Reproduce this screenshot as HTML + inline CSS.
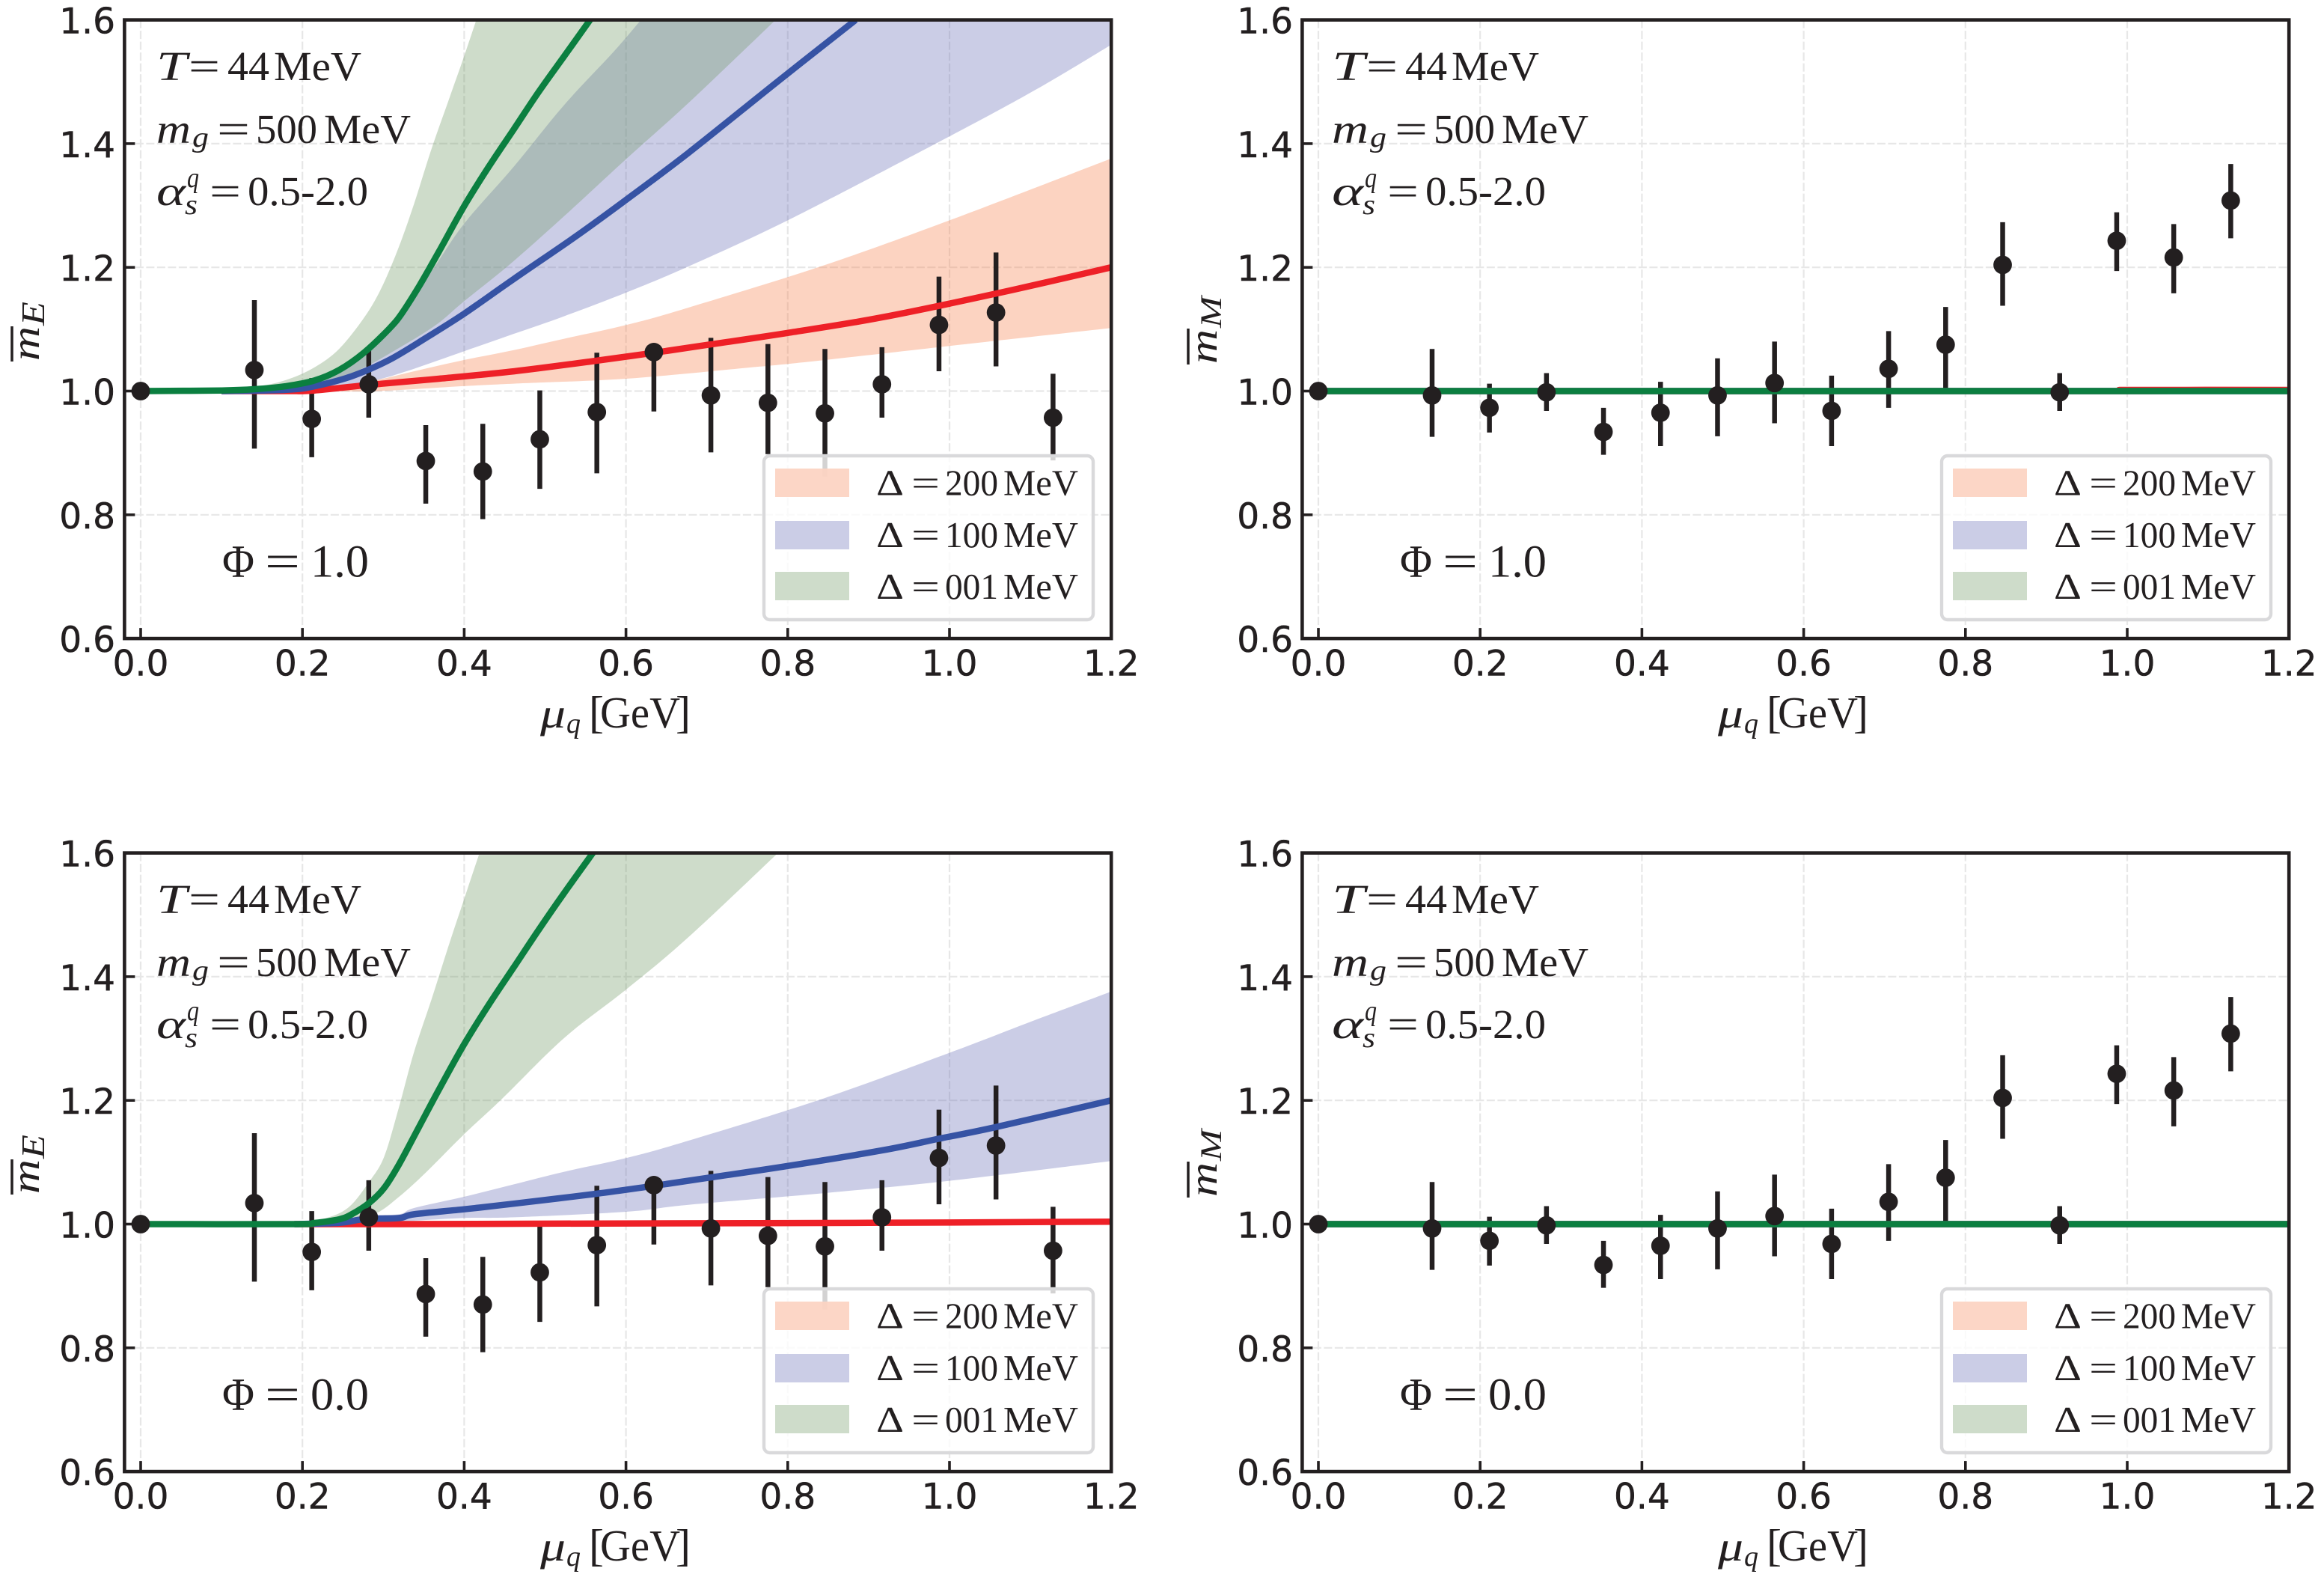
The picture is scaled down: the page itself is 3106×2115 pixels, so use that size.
<!DOCTYPE html>
<html lang="en">
<head>
<meta charset="utf-8">
<title>Screening mass ratios versus quark chemical potential</title>
<style>
html,body{margin:0;padding:0;background:#fff;}
body{width:3106px;height:2115px;overflow:hidden;}
svg{display:block;}
text{fill:#231f20;}
</style>
</head>
<body>
<svg id="figure" xmlns="http://www.w3.org/2000/svg" width="3106" height="2115" viewBox="0 0 3106 2115"></svg>
<script>
const xTickValues = [0, 0.2, 0.4, 0.6, 0.8, 1.0, 1.2];
const xTickLabels = ['0.0', '0.2', '0.4', '0.6', '0.8', '1.0', '1.2'];
const yTickValues = [0.6, 0.8, 1.0, 1.2, 1.4, 1.6];
const yTickLabels = ['0.6', '0.8', '1.0', '1.2', '1.4', '1.6'];
const legendLabels = ['200', '100', '001'];

const muPoints = [0, 0.1406, 0.2115, 0.282, 0.3525, 0.423, 0.4935, 0.564, 0.6345, 0.705, 0.7755, 0.846, 0.9165, 0.987, 1.0575, 1.128];
const electricMass = [1.0, 1.034, 0.955, 1.011, 0.887, 0.870, 0.922, 0.966, 1.063, 0.993, 0.981, 0.964, 1.011, 1.107, 1.127, 0.957];
const electricUpper = [1.0, 1.147, 1.021, 1.071, 0.945, 0.947, 1.001, 1.062, 1.075, 1.086, 1.076, 1.068, 1.071, 1.185, 1.224, 1.028];
const electricLower = [1.0, 0.907, 0.893, 0.957, 0.818, 0.793, 0.842, 0.867, 0.967, 0.901, 0.898, 0.862, 0.957, 1.032, 1.040, 0.888];
const magneticMass = [1.0, 0.993, 0.973, 0.998, 0.934, 0.965, 0.993, 1.013, 0.968, 1.036, 1.075, 1.204, 0.998, 1.243, 1.216, 1.308];
const magneticUpper = [1.0, 1.068, 1.012, 1.029, 0.973, 1.015, 1.053, 1.080, 1.025, 1.097, 1.136, 1.273, 1.029, 1.289, 1.270, 1.367];
const magneticLower = [1.0, 0.926, 0.933, 0.968, 0.897, 0.911, 0.927, 0.948, 0.911, 0.973, 1.000, 1.138, 0.968, 1.194, 1.158, 1.247];

/* top-left panel, Phi = 1.0 */
const tlGreenMu = [0, 0.10, 0.1406, 0.18, 0.2146, 0.2454, 0.2763, 0.3071, 0.3225, 0.3441, 0.3688, 0.3996, 0.4304, 0.4613, 0.4921, 0.523, 0.5538, 0.56];
const tlGreenVal = [1.0, 1.001, 1.003, 1.008, 1.0171, 1.0341, 1.0623, 1.1006, 1.1248, 1.1692, 1.2256, 1.2982, 1.3628, 1.4232, 1.4837, 1.5402, 1.5967, 1.608];
const tlGreenUpMu = [0.10, 0.14, 0.18, 0.2146, 0.2454, 0.2763, 0.2979, 0.3194, 0.3379, 0.3595, 0.3811, 0.3996, 0.415];
const tlGreenUpVal = [1.001, 1.006, 1.018, 1.0381, 1.0683, 1.1188, 1.1672, 1.2337, 1.3023, 1.391, 1.4716, 1.5402, 1.6];
const tlGreenLoMu = [0.10, 0.18, 0.2146, 0.2454, 0.2763, 0.3071, 0.3626, 0.3996, 0.4551, 0.523, 0.6, 0.6771, 0.785];
const tlGreenLoVal = [1.0, 1.003, 1.007, 1.02, 1.0381, 1.0603, 1.1046, 1.145, 1.2034, 1.2821, 1.3748, 1.4656, 1.6];
const tlBlueMu = [0.10, 0.18, 0.2146, 0.2609, 0.3071, 0.3534, 0.3996, 0.4613, 0.5384, 0.6, 0.6772, 0.79, 0.884];
const tlBlueVal = [1.0, 1.002, 1.0078, 1.024, 1.0502, 1.0865, 1.1248, 1.1813, 1.2505, 1.309, 1.385, 1.503, 1.6];
const tlBlueUpMu = [0.10, 0.18, 0.2146, 0.2454, 0.2763, 0.3225, 0.3595, 0.3996, 0.4613, 0.523, 0.5846, 0.6185];
const tlBlueUpVal = [1.0, 1.006, 1.02, 1.034, 1.0683, 1.1289, 1.1934, 1.27, 1.3628, 1.4616, 1.5483, 1.6];
const tlBlueLoMu = [0.10, 0.18, 0.2454, 0.2917, 0.3379, 0.3996, 0.4613, 0.523, 0.6, 0.6772, 0.80, 0.983, 1.105, 1.2];
const tlBlueLoVal = [1.0, 1.001, 1.008, 1.018, 1.0361, 1.0643, 1.0925, 1.1207, 1.1591, 1.2014, 1.276, 1.4, 1.486, 1.56];
const tlRedMu = [0.10, 0.18, 0.2146, 0.2824, 0.3688, 0.4613, 0.563, 0.6322, 0.705, 0.80, 0.916, 1.059, 1.2];
const tlRedVal = [1.0, 1.0, 1.001, 1.01, 1.02, 1.032, 1.049, 1.0615, 1.0755, 1.094, 1.119, 1.158, 1.2];
const tlRedUpMu = [0.10, 0.2146, 0.2917, 0.3379, 0.3996, 0.4613, 0.523, 0.6, 0.6772, 0.844, 1.0, 1.2];
const tlRedUpVal = [1.0, 1.001, 1.018, 1.032, 1.0502, 1.0663, 1.0845, 1.1067, 1.1349, 1.203, 1.276, 1.376];
const tlRedLoMu = [0.10, 0.2146, 0.2917, 0.3996, 0.4613, 0.6, 0.745, 0.844, 1.014, 1.2];
const tlRedLoVal = [1.0, 1.0, 1.0, 1.008, 1.012, 1.02, 1.037, 1.05, 1.075, 1.102];

/* bottom-left panel, Phi = 0.0 */
const blGreenMu = [0, 0.19, 0.2146, 0.2454, 0.2609, 0.2824, 0.3009, 0.3194, 0.3441, 0.3688, 0.3996, 0.4304, 0.4613, 0.4921, 0.523, 0.5584, 0.565];
const blGreenVal = [1.0, 1.0, 1.0018, 1.0078, 1.0159, 1.0341, 1.0582, 1.0966, 1.1571, 1.2176, 1.2901, 1.3547, 1.4152, 1.4757, 1.5342, 1.5987, 1.61];
const blGreenUpMu = [0.19, 0.23, 0.2578, 0.2824, 0.3009, 0.3194, 0.3379, 0.3595, 0.3811, 0.3996, 0.4181];
const blGreenUpVal = [1.0, 1.0099, 1.028, 1.0683, 1.1087, 1.1893, 1.2781, 1.3628, 1.4515, 1.5241, 1.5967];
const blGreenLoMu = [0.19, 0.2454, 0.2886, 0.3194, 0.3534, 0.3996, 0.4459, 0.523, 0.6, 0.6771, 0.788];
const blGreenLoVal = [1.0, 1.004, 1.016, 1.0442, 1.0845, 1.145, 1.2014, 1.3002, 1.3789, 1.4636, 1.6];
const blBlueMu = [0.19, 0.2454, 0.2763, 0.3194, 0.3379, 0.3996, 0.4613, 0.563, 0.6322, 0.705, 0.80, 0.916, 0.987, 1.058, 1.2];
const blBlueVal = [1.0, 1.002, 1.008, 1.0098, 1.0159, 1.024, 1.033, 1.049, 1.0615, 1.0755, 1.094, 1.119, 1.138, 1.157, 1.2];
const blBlueUpMu = [0.25, 0.2763, 0.3194, 0.3379, 0.3996, 0.4613, 0.523, 0.6, 0.6772, 0.844, 1.0, 1.1, 1.2];
const blBlueUpVal = [1.004, 1.014, 1.016, 1.026, 1.0442, 1.0643, 1.0845, 1.1067, 1.1349, 1.203, 1.277, 1.327, 1.376];
const blBlueLoMu = [0.25, 0.3194, 0.3996, 0.4613, 0.6, 0.6772, 0.844, 1.0, 1.2];
const blBlueLoVal = [1.0, 1.004, 1.0099, 1.011, 1.02, 1.0312, 1.05, 1.07, 1.102];
const blRedMu = [0.19, 0.32, 0.566, 0.90, 1.2];
const blRedVal = [1.0, 1.0, 1.001, 1.002, 1.004];

/* right-hand panels: all three magnetic curves sit on 1.0 */
const trCurveMu = [0, 0.99, 0.994, 1.2];
const trRedVal = [1.0, 1.0, 1.0018, 1.0018];
const trBlueVal = [1.0, 1.0, 1.0, 1.0];
const trGreenVal = [1.0, 1.0, 1.0, 1.0];
const brCurveMu = [0, 0.6, 1.2];
const brRedVal = [1.0, 1.0, 1.0];
const brBlueVal = [1.0, 1.0, 1.0];
const brGreenVal = [1.0, 1.0, 1.0];

const SVGNS = 'http://www.w3.org/2000/svg';
const INK = '#231f20';
const RED = '#ee2027';
const BLUE = '#3653a4';
const GREEN = '#0b7f40';
const figure = document.getElementById('figure');

const defs = document.createElementNS(SVGNS, 'defs');
figure.appendChild(defs);

function node(parent, tag, attrs) {
  const n = document.createElementNS(SVGNS, tag);
  for (const k in attrs) n.setAttribute(k, attrs[k]);
  parent.appendChild(n);
  return n;
}

function xScale(mu, ox) { return 188 + 1081 * mu + ox; }
function yScale(v, oy) { return 522.5 - 826.5 * (v - 1) + oy; }

function smoothSegs(pts) {
  let d = '';
  for (let i = 0; i < pts.length - 1; i++) {
    const p0 = pts[Math.max(i - 1, 0)], p1 = pts[i], p2 = pts[i + 1], p3 = pts[Math.min(i + 2, pts.length - 1)];
    const c1x = p1[0] + (p2[0] - p0[0]) / 6, c1y = p1[1] + (p2[1] - p0[1]) / 6;
    const c2x = p2[0] - (p3[0] - p1[0]) / 6, c2y = p2[1] - (p3[1] - p1[1]) / 6;
    d += ' C' + c1x.toFixed(1) + ' ' + c1y.toFixed(1) + ' ' + c2x.toFixed(1) + ' ' + c2y.toFixed(1) + ' ' + p2[0].toFixed(1) + ' ' + p2[1].toFixed(1);
  }
  return d;
}

function toPts(mus, vals, ox, oy) {
  return mus.map(function (m, i) { return [xScale(m, ox), yScale(vals[i], oy)]; });
}

function linePath(mus, vals, ox, oy) {
  const p = toPts(mus, vals, ox, oy);
  return 'M' + p[0][0].toFixed(1) + ' ' + p[0][1].toFixed(1) + smoothSegs(p);
}

function bandPath(upMu, upVal, loMu, loVal, ox, oy) {
  const up = toPts(upMu, upVal, ox, oy);
  const lo = toPts(loMu, loVal, ox, oy).reverse();
  const corner = lo[0][0].toFixed(1) + ' ' + yScale(1.6, oy).toFixed(1);
  return 'M' + up[0][0].toFixed(1) + ' ' + up[0][1].toFixed(1) + smoothSegs(up) +
    ' L' + corner + ' L' + lo[0][0].toFixed(1) + ' ' + lo[0][1].toFixed(1) + smoothSegs(lo) + ' Z';
}

function label(parent, str, x0, x1, base, size, italic) {
  const t = node(parent, 'text', {
    x: x0, y: base,
    'font-family': '"Liberation Serif", "DejaVu Serif", serif',
    'font-size': size,
    'font-style': italic ? 'italic' : 'normal',
    textLength: x1 - x0,
    lengthAdjust: 'spacingAndGlyphs'
  });
  t.textContent = str;
  return t;
}

function drawPanel(id, ox, oy, massVals, massUp, massLo, bands, lines, phiText, yName) {
  const panel = node(figure, 'g', { id: id });
  
  

  const x0 = xScale(-0.02, ox), x1 = xScale(1.2, ox), yTop = yScale(1.6, oy), yBot = yScale(0.6, oy);

  const clip = node(defs, 'clipPath', { id: 'clip-' + id });
  node(clip, 'rect', { x: x0, y: yTop, width: x1 - x0, height: yBot - yTop });

  const grid = node(panel, 'g', { stroke: '#e7e7e7', 'stroke-width': 2.2, 'stroke-dasharray': '11 3.5', fill: 'none' });
  
  
  xTickValues.slice(0, -1).forEach(function (m) {
    node(grid, 'line', { x1: xScale(m, ox), x2: xScale(m, ox), y1: yTop, y2: yBot });
  });
  yTickValues.slice(1, -1).forEach(function (v) {
    node(grid, 'line', { x1: x0, x2: x1, y1: yScale(v, oy), y2: yScale(v, oy) });
  });

  const plot = node(panel, 'g', { 'clip-path': 'url(#clip-' + id + ')' });
  
  

  bands.forEach(function (b) {
    const band = node(plot, 'path', { d: bandPath(b.upMu, b.upVal, b.loMu, b.loVal, ox, oy), fill: b.color, 'fill-opacity': 0.35, stroke: 'none' });
    
    
  });

  muPoints.forEach(function (m, i) {
    if (massUp[i] === massLo[i]) return;
    const bar = node(plot, 'line', { x1: xScale(m, ox), x2: xScale(m, ox), y1: yScale(massUp[i], oy), y2: yScale(massLo[i], oy), stroke: INK, 'stroke-width': 6.5 });
    
    
  });

  lines.forEach(function (l) {
    const curve = node(plot, 'path', { d: linePath(l.mu, l.val, ox, oy), fill: 'none', stroke: l.color, 'stroke-width': 8.5 });
    
    
  });

  muPoints.forEach(function (m, i) {
    const dot = node(panel, 'circle', { cx: xScale(m, ox), cy: yScale(massVals[i], oy), r: 12.4, fill: INK });
    
    
  });

  const frame = node(panel, 'rect', { x: x0, y: yTop, width: x1 - x0, height: yBot - yTop, fill: 'none', stroke: INK, 'stroke-width': 4.6 });
  
  

  xTickValues.forEach(function (m, i) {
    if (i < xTickValues.length - 1) {
      const tick = node(panel, 'line', { x1: xScale(m, ox), x2: xScale(m, ox), y1: yBot, y2: yBot - 14, stroke: INK, 'stroke-width': 3.6 });
      
      
    }
    const tl = node(panel, 'text', { x: xScale(m, ox), y: 902.5 + oy, 'text-anchor': 'middle', 'font-family': '"DejaVu Sans", sans-serif', 'font-size': 47, stroke: INK, 'stroke-width': 0.5 });
    tl.textContent = xTickLabels[i];
    
    
  });
  yTickValues.forEach(function (v, i) {
    if (i > 0 && i < yTickValues.length - 1) {
      const tick = node(panel, 'line', { x1: x0, x2: x0 + 14, y1: yScale(v, oy), y2: yScale(v, oy), stroke: INK, 'stroke-width': 3.6 });
      
      
    }
    const tl = node(panel, 'text', { x: 154 + ox, y: yScale(v, oy) + 18, 'text-anchor': 'end', 'font-family': '"DejaVu Sans", sans-serif', 'font-size': 47, stroke: INK, 'stroke-width': 0.5 });
    tl.textContent = yTickLabels[i];
    
    
  });

  const xTitle = node(panel, 'g', { transform: 'translate(' + ox + ' ' + oy + ')' });
  
  
  label(xTitle, 'μ', 722, 756, 972, 55, true);
  label(xTitle, 'q', 757, 776, 979, 38, true);
  label(xTitle, '[', 787, 807, 972, 60, false);
  label(xTitle, 'GeV', 802, 909, 972, 59, false);
  label(xTitle, ']', 903, 923, 972, 60, false);

  const yTitle = node(panel, 'g', { transform: 'translate(' + ox + ' ' + oy + ')' });
  
  
  if (yName === 'E') {
    const m = node(yTitle, 'text', { transform: 'translate(52 482) rotate(-90)', 'font-family': '"Liberation Serif", serif', 'font-style': 'italic', 'font-size': 53, textLength: 46, lengthAdjust: 'spacingAndGlyphs' });
    m.textContent = 'm';
    const sub = node(yTitle, 'text', { transform: 'translate(59 435) rotate(-90)', 'font-family': '"Liberation Serif", serif', 'font-style': 'italic', 'font-size': 44, textLength: 32, lengthAdjust: 'spacingAndGlyphs' });
    sub.textContent = 'E';
    node(yTitle, 'line', { x1: 16, x2: 16, y1: 436, y2: 483, stroke: INK, 'stroke-width': 3.5 });
  } else {
    const m = node(yTitle, 'text', { transform: 'translate(52 486) rotate(-90)', 'font-family': '"Liberation Serif", serif', 'font-style': 'italic', 'font-size': 53, textLength: 46, lengthAdjust: 'spacingAndGlyphs' });
    m.textContent = 'm';
    const sub = node(yTitle, 'text', { transform: 'translate(58 438) rotate(-90)', 'font-family': '"Liberation Serif", serif', 'font-style': 'italic', 'font-size': 40, textLength: 42, lengthAdjust: 'spacingAndGlyphs' });
    sub.textContent = 'M';
    node(yTitle, 'line', { x1: 14, x2: 14, y1: 439, y2: 487, stroke: INK, 'stroke-width': 3.5 });
  }

  const notes = node(panel, 'g', { transform: 'translate(' + ox + ' ' + oy + ')' });
  
  
  const lead = ox > 0 ? 3 : 0;
  label(notes, 'T', 209 - lead, 250, 107, 55, true);
  label(notes, '=', 252, 294, 107, 55, false);
  label(notes, '44', 304, 360, 107, 55, false);
  label(notes, 'MeV', 366, 483, 107, 55, false);
  label(notes, 'm', 209 - lead, 255, 191, 55, true);
  label(notes, 'g', 257, 279, 196, 38, true);
  label(notes, '=', 290, 334, 191, 55, false);
  label(notes, '500', 342, 424, 191, 55, false);
  label(notes, 'MeV', 433, 549, 191, 55, false);
  label(notes, 'α', 209 - lead, 248, 274, 55, true);
  label(notes, 'q', 250, 266, 250, 38, true);
  label(notes, 's', 247, 264, 286, 38, true);
  label(notes, '=', 280, 322, 274, 55, false);
  label(notes, '0.5-2.0', 331, 492, 274, 55, false);

  const phi = node(panel, 'g', { transform: 'translate(' + ox + ' ' + oy + ')' });
  
  
  label(phi, 'Φ', 297, 340, 770.5, 61, false);
  label(phi, '=', 354, 401, 770.5, 61, false);
  label(phi, phiText, 415, 493, 770.5, 61, false);

  const legend = node(panel, 'g', { transform: 'translate(' + ox + ' ' + oy + ')' });
  
  
  node(legend, 'rect', { x: 1021, y: 609, width: 440, height: 219, rx: 8, ry: 8, fill: '#fff', 'fill-opacity': 0.8, stroke: '#d9d9db', 'stroke-width': 4.4 });
  const swatchColors = ['#fcd3c1', '#cbcde6', '#cedcca'];
  const patchTop = [626, 696, 764];
  const baseY = [661.5, 731, 800];
  legendLabels.forEach(function (txt, i) {
    const entry = node(legend, 'g', {});
    
    
    node(entry, 'rect', { x: 1036, y: patchTop[i], width: 99, height: 38, fill: swatchColors[i], 'fill-opacity': i === 0 ? 0.92 : 1 });
    label(entry, 'Δ', 1171, 1208, baseY[i], 49, false);
    label(entry, '=', 1218, 1256, baseY[i], 49, false);
    label(entry, txt, 1263, 1334, baseY[i], 49, false);
    label(entry, 'MeV', 1341, 1441, baseY[i], 49, false);
  });
}

drawPanel('panel-electric-phi-1', 0, 0, electricMass, electricUpper, electricLower,
  [
    { name: 'red', color: 'rgb(246,129,78)', upMu: tlRedUpMu, upVal: tlRedUpVal, loMu: tlRedLoMu, loVal: tlRedLoVal },
    { name: 'blue', color: 'rgb(106,112,184)', upMu: tlBlueUpMu, upVal: tlBlueUpVal, loMu: tlBlueLoMu, loVal: tlBlueLoVal },
    { name: 'green', color: 'rgb(115,155,104)', upMu: tlGreenUpMu, upVal: tlGreenUpVal, loMu: tlGreenLoMu, loVal: tlGreenLoVal }
  ],
  [
    { name: 'red', color: RED, mu: tlRedMu, val: tlRedVal },
    { name: 'blue', color: BLUE, mu: tlBlueMu, val: tlBlueVal },
    { name: 'green', color: GREEN, mu: tlGreenMu, val: tlGreenVal }
  ], '1.0', 'E');

drawPanel('panel-magnetic-phi-1', 1574, 0, magneticMass, magneticUpper, magneticLower, [],
  [
    { name: 'red', color: RED, mu: trCurveMu, val: trRedVal },
    { name: 'blue', color: BLUE, mu: trCurveMu, val: trBlueVal },
    { name: 'green', color: GREEN, mu: trCurveMu, val: trGreenVal }
  ], '1.0', 'M');

drawPanel('panel-electric-phi-0', 0, 1113, electricMass, electricUpper, electricLower,
  [
    { name: 'blue', color: 'rgb(106,112,184)', upMu: blBlueUpMu, upVal: blBlueUpVal, loMu: blBlueLoMu, loVal: blBlueLoVal },
    { name: 'green', color: 'rgb(115,155,104)', upMu: blGreenUpMu, upVal: blGreenUpVal, loMu: blGreenLoMu, loVal: blGreenLoVal }
  ],
  [
    { name: 'red', color: RED, mu: blRedMu, val: blRedVal },
    { name: 'blue', color: BLUE, mu: blBlueMu, val: blBlueVal },
    { name: 'green', color: GREEN, mu: blGreenMu, val: blGreenVal }
  ], '0.0', 'E');

drawPanel('panel-magnetic-phi-0', 1574, 1113, magneticMass, magneticUpper, magneticLower, [],
  [
    { name: 'red', color: RED, mu: brCurveMu, val: brRedVal },
    { name: 'blue', color: BLUE, mu: brCurveMu, val: brBlueVal },
    { name: 'green', color: GREEN, mu: brCurveMu, val: brGreenVal }
  ], '0.0', 'M');
</script>
</body>
</html>
